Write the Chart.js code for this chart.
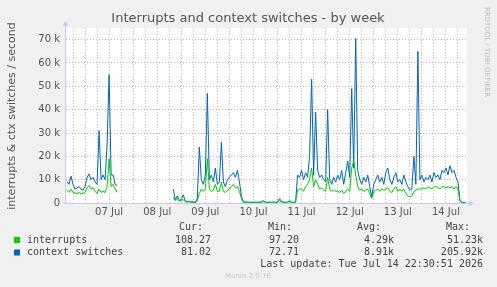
<!DOCTYPE html>
<html>
<head>
<meta charset="utf-8">
<script src="https://cdn.jsdelivr.net/npm/chart.js@4.4.1/dist/chart.umd.min.js"></script>
<style>
  html, body { margin: 0; padding: 0; background: #F0F0F0; }
  #wrap { width: 497px; height: 287px; position: relative; }
</style>
</head>
<body>
<div id="wrap"><canvas id="munin"></canvas></div>
<script>
// hours counted from 07 Jul 00:00, one sample per hour
const firstHour = -9;
const dayNames = ['07 Jul', '08 Jul', '09 Jul', '10 Jul', '11 Jul', '12 Jul', '13 Jul', '14 Jul'];

// values in thousands per second, null = no data
const ctxSwitchesK = [
  9, 8, 11.5, 8, 6, 6.5, 7, 6, 5.5,
  7, 11, 12.5, 10, 11, 9, 8, 31, 10, 12, 10, 25, 55, 12, 12, 8, 7.5,
  null, null, null, null, null, null, null, null, null, null, null, null, null,
  null, null, null, null, null, null, null, null, null, null, null, null, null,
  null, 6, 1.5, 3, 1, 1.5, 3.5, 0.8, 0.6, 0.8, 0.5, 0.5, 0.3, 2,
  24, 10, 8, 12, 47, 10, 12, 9, 15, 8, 9, 26, 9, 7, 10, 11, 12, 13, 11, 14, 9, 3, 0.5,
  0.4, 0.4, 0.3, 0.4, 0.3, 0.4, 0.3, 0.4, 0.5, 1, 0.4, 0.3, 0.4, 0.3, 0.4, 0.3, 0.5, 2, 0.6, 0.4, 0.3, 0.4, 1, 0.4, 0.3, 0.5,
  12, 11, 14, 10, 13, 11, 20, 53, 12, 39, 14, 11, 12, 10, 9, 40, 10, 8, 11, 9, 12, 10, 14, 8, 13, 18, 11, 49, 15, 70.5,
  14, 10, 8, 11, 9, 12, 7, 2.5,
  8, 10, 12, 9, 11, 8, 13, 15, 10, 8, 11, 13, 9, 10, 8, 12, 9, 7, 5.5, 6, 20, 8, 65, 10,
  12, 9, 11, 10, 12, 9, 13, 11, 12, 10, 14, 13, 15, 12, 16, 13, 14, 11, 9, 1, 0.3, 0.1, 0.08
];
const interruptsK = [
  5.5, 4.5, 6, 4.5, 4.3, 4, 4.5, 4, 4.2,
  4.5, 6.5, 7.5, 6, 6.5, 5, 4, 6, 4.5, 5, 4.5, 7, 19, 7, 8, 6, 4.5,
  null, null, null, null, null, null, null, null, null, null, null, null, null,
  null, null, null, null, null, null, null, null, null, null, null, null, null,
  null, 2.5, 1, 2, 0.8, 1, 1.5, 0.5, 0.4, 0.5, 0.3, 0.3, 0.2, 1,
  4, 6, 5, 6, 19, 6, 5, 5.5, 8, 5, 5, 9, 5, 4.5, 5.5, 6, 7, 8, 6.5, 7, 5, 2, 0.3,
  0.3, 0.3, 0.2, 0.3, 0.2, 0.3, 0.2, 0.3, 0.3, 0.6, 0.3, 0.2, 0.3, 0.2, 0.3, 0.2, 0.3, 1, 0.4, 0.3, 0.2, 0.3, 0.6, 0.3, 0.2, 0.3,
  5.5, 6, 6, 5, 7, 8, 10, 15, 7, 10, 8, 6, 6.5, 5.5, 5, 11, 6, 5, 5.5, 5, 5, 4.5, 5.5, 4, 5, 6, 5, 15, 18, 12,
  7, 5.5, 6, 5, 5.5, 6, 4, 2,
  5, 5.5, 6, 5, 6, 5.5, 6, 6.5, 5, 4.5, 6, 7, 5, 6, 5, 6, 4, 3, 2.8, 3, 5, 5.5, 6, 6,
  6, 6.5, 6, 7, 6.5, 6, 7, 7, 6.5, 6, 7, 7, 6.5, 7, 6.5, 7, 6, 7, 6, 0.8, 0.2, 0.1, 0.1
];
const yTicksK = [0, 10, 20, 30, 40, 50, 60, 70];

const legendRows = [
  { name: 'interrupts', color: '#00CC00', cur: '108.27', min: '97.20', avg: '4.29k', max: '51.23k' },
  { name: 'context switches', color: '#0066B3', cur: '81.02', min: '72.71', avg: '8.91k', max: '205.92k' }
];

function toPoints(values) {
    return values.map(function (v, i) {
        return { x: firstHour + i, y: v };
    });
}

const gridRed = 'rgba(226, 150, 150, 0.9)';
const gridGray = 'rgba(190, 190, 190, 0.9)';
const axisBlue = '#C8C8F4';

const muninDecor = {
    id: 'muninDecor',
    beforeDraw(chart) {
        const c = chart.ctx;
        const a = chart.chartArea;
        c.save();
        c.fillStyle = '#F0F0F0';
        c.fillRect(0, 0, chart.width, chart.height);
        c.fillStyle = '#FFFFFF';
        c.fillRect(a.left, a.top, a.right - a.left, a.bottom - a.top);
        c.restore();
    },
    afterDraw(chart) {
        const c = chart.ctx;
        const a = chart.chartArea;
        c.save();

        // axis lines with arrows
        c.strokeStyle = axisBlue;
        c.fillStyle = axisBlue;
        c.lineWidth = 1;
        c.beginPath();
        c.moveTo(a.left - 0.5, a.bottom + 0.5);
        c.lineTo(a.left - 0.5, a.top - 3);
        c.moveTo(a.left - 2, a.bottom + 0.5);
        c.lineTo(a.right + 3, a.bottom + 0.5);
        c.stroke();
        c.beginPath();
        c.moveTo(a.left - 3.5, a.top - 2);
        c.lineTo(a.left + 2.5, a.top - 2);
        c.lineTo(a.left - 0.5, a.top - 7);
        c.closePath();
        c.fill();
        c.beginPath();
        c.moveTo(a.right + 2, a.bottom - 2.5);
        c.lineTo(a.right + 2, a.bottom + 3.5);
        c.lineTo(a.right + 7, a.bottom + 0.5);
        c.closePath();
        c.fill();

        // title
        c.fillStyle = '#555555';
        c.font = '13px "DejaVu Sans"';
        c.textAlign = 'center';
        c.textBaseline = 'middle';
        c.fillText('Interrupts and context switches - by week', 248, 19);

        // vertical axis title
        c.save();
        c.translate(12, 116);
        c.rotate(-Math.PI / 2);
        c.font = '11px "DejaVu Sans"';
        c.fillText('interrupts & ctx switches / second', 0, 0);
        c.restore();

        // rrdtool credit
        c.save();
        c.translate(487, 52);
        c.rotate(Math.PI / 2);
        c.fillStyle = '#BBBBBB';
        c.font = '7px "DejaVu Sans"';
        c.fillText('RRDTOOL / TOBI OETIKER', 0, 0);
        c.restore();

        // legend table
        c.font = '10px "DejaVu Sans Mono"';
        c.fillStyle = '#444444';
        c.textAlign = 'right';
        c.fillText('Cur:', 203, 227);
        c.fillText('Min:', 292, 227);
        c.fillText('Avg:', 381, 227);
        c.fillText('Max:', 470, 227);
        legendRows.forEach(function (row, i) {
            const y = 240 + i * 12.5;
            c.fillStyle = row.color;
            c.fillRect(14, y - 3, 6, 6);
            c.fillStyle = '#444444';
            c.textAlign = 'left';
            c.fillText(row.name, 27, y);
            c.textAlign = 'right';
            c.fillText(row.cur, 211, y);
            c.fillText(row.min, 299, y);
            c.fillText(row.avg, 394, y);
            c.fillText(row.max, 483, y);
        });
        c.fillText('Last update: Tue Jul 14 22:30:51 2026', 483, 264);

        c.fillStyle = '#C8C8C8';
        c.font = '7px "DejaVu Sans"';
        c.textAlign = 'center';
        c.fillText('Munin 2.0.76', 248, 276);
        c.restore();
    }
};

new Chart(document.getElementById('munin'), {
    type: 'line',
    data: {
        datasets: [
            {
                label: 'interrupts',
                data: toPoints(interruptsK),
                borderColor: '#00CC00',
                borderWidth: 1,
                pointRadius: 0,
                spanGaps: false,
                order: 1
            },
            {
                label: 'context switches',
                data: toPoints(ctxSwitchesK),
                borderColor: '#0066B3',
                borderWidth: 1,
                pointRadius: 0,
                spanGaps: false,
                order: 2
            }
        ]
    },
    options: {
        responsive: true,
        maintainAspectRatio: false,
        animation: false,
        layout: { padding: { left: 6, right: 30, top: 28, bottom: 0 } },
        plugins: { legend: { display: false }, tooltip: { enabled: false } },
        scales: {
            x: {
                type: 'linear',
                min: -9.5,
                max: 190.5,
                afterBuildTicks: function (scale) {
                    const ticks = [];
                    for (let h = -6; h <= 186; h += 6) ticks.push({ value: h });
                    scale.ticks = ticks;
                },
                afterFit: function (scale) { scale.height = 84; },
                ticks: {
                    autoSkip: false,
                    maxRotation: 0,
                    padding: 3,
                    color: '#555555',
                    font: { family: 'DejaVu Sans', size: 10 },
                    callback: function (v) {
                        if (((v % 24) + 24) % 24 !== 12) return '';
                        return dayNames[Math.floor(v / 24)];
                    }
                },
                grid: {
                    drawTicks: false,
                    color: function (ctx) {
                        return ((ctx.tick.value % 24) + 24) % 24 === 0 ? gridRed : gridGray;
                    }
                },
                border: { display: false, dash: [1, 2] }
            },
            y: {
                min: 0,
                max: 75,
                afterBuildTicks: function (scale) {
                    const ticks = [];
                    for (let v = 0; v <= 75; v += 5) ticks.push({ value: v });
                    scale.ticks = ticks;
                },
                afterFit: function (scale) { scale.width = 60; },
                ticks: {
                    padding: 6,
                    color: '#555555',
                    font: { family: 'DejaVu Sans', size: 10 },
                    callback: function (v) {
                        if (yTicksK.indexOf(v) < 0) return '';
                        return v === 0 ? '0' : v + ' k';
                    }
                },
                grid: {
                    drawTicks: false,
                    color: function (ctx) {
                        return ctx.tick.value % 10 === 0 ? gridRed : gridGray;
                    }
                },
                border: { display: false, dash: [1, 2] }
            }
        }
    },
    plugins: [muninDecor]
});
</script>
</body>
</html>
